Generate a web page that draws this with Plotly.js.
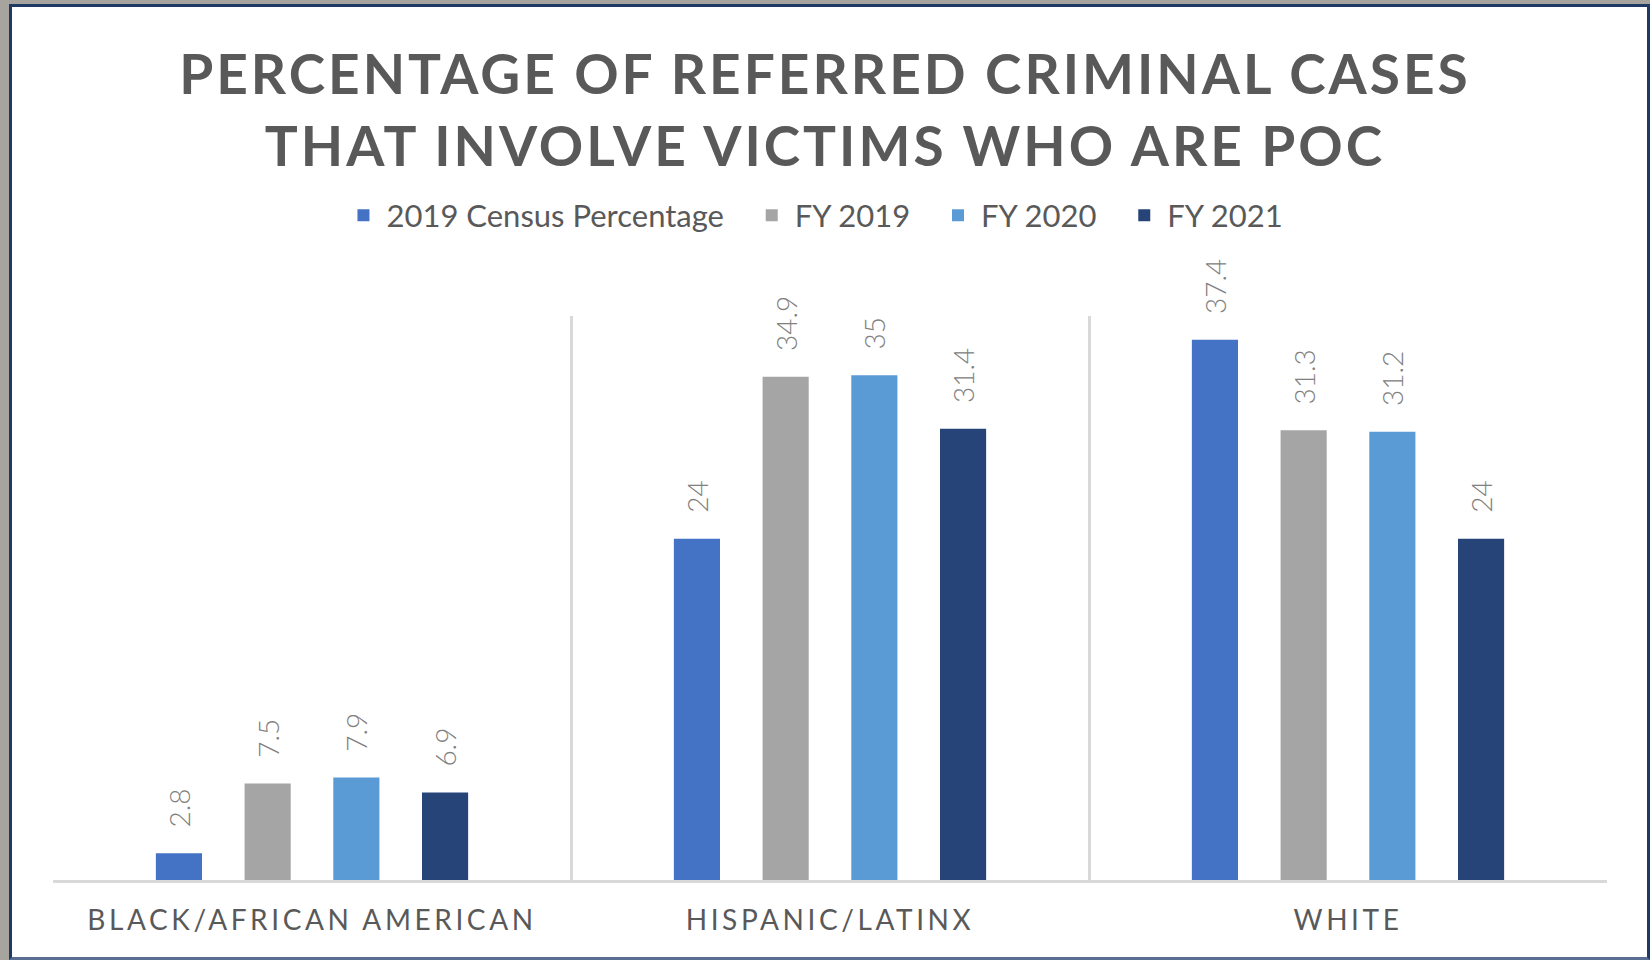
<!DOCTYPE html>
<html>
<head>
<meta charset="utf-8">
<script src="https://cdn.plot.ly/plotly-3.0.1.min.js"></script>
<style>
html,body{margin:0;padding:0;background:#ffffff;}
#wrap{position:relative;width:1650px;height:960px;overflow:hidden;}
#chart{position:absolute;left:0;top:0;width:1650px;height:960px;}
#frameOuter{position:absolute;left:0;top:0;width:1650px;height:960px;box-sizing:border-box;border-left:9px solid #a7a39e;border-top:4px solid #a7a39e;pointer-events:none;}
#frameInner{position:absolute;left:9px;top:4px;right:0;bottom:0;border:3px solid #203864;border-bottom-color:#5a6e93;pointer-events:none;}
.xtick text{letter-spacing:3.6px;}
.gtitle{letter-spacing:3px;}
</style>
</head>
<body>
<div id="wrap">
  <div id="chart"></div>
  <div id="frameOuter"></div>
  <div id="frameInner"></div>
</div>
<script>
const categories = ['BLACK/AFRICAN AMERICAN', 'HISPANIC/LATINX', 'WHITE'];
const seriesNames = ['2019 Census Percentage', 'FY 2019', 'FY 2020', 'FY 2021'];
const census2019 = [2.8, 24, 37.4];
const fy2019 = [7.5, 34.9, 31.3];
const fy2020 = [7.9, 35, 31.2];
const fy2021 = [6.9, 31.4, 24];
const seriesColors = ['#4472C4', '#A5A5A5', '#5B9BD5', '#264478'];

const seriesValues = [census2019, fy2019, fy2020, fy2021];
const pad = '\u00a0\u00a0\u00a0';
const legendPad = '\u00a0\u00a0\u2009';

const traces = seriesValues.map((vals, i) => ({
  type: 'bar',
  name: seriesNames[i] + (i < seriesNames.length - 1 ? legendPad : ''),
  x: categories,
  y: vals,
  marker: {color: seriesColors[i]},
  text: vals.map(v => pad + String(v)),
  textposition: 'outside',
  textangle: -90,
  constraintext: 'none',
  cliponaxis: false,
  textfont: {family: 'Lato', size: 28, color: '#808080', weight: 300},
  hoverinfo: 'skip'
}));

const layout = {
  width: 1650,
  height: 960,
  paper_bgcolor: '#ffffff',
  plot_bgcolor: '#ffffff',
  margin: {l: 53, r: 43, t: 316, b: 80, autoexpand: false},
  barmode: 'group',
  bargap: 0.315,
  bargroupgap: 0.48,
  showlegend: true,
  title: {
    text: 'PERCENTAGE OF REFERRED CRIMINAL CASES<br>THAT INVOLVE VICTIMS WHO ARE POC',
    font: {family: 'Lato', size: 55, color: '#595959', weight: 700},
    x: 0.5,
    xanchor: 'center',
    xref: 'container',
    yref: 'container',
    y: 0.902,
    yanchor: 'middle'
  },
  legend: {
    orientation: 'h',
    x: 0.49,
    xanchor: 'center',
    y: 1.178,
    yanchor: 'middle',
    itemwidth: 36,
    font: {family: 'Lato', size: 31, color: '#595959'},
    bgcolor: 'rgba(0,0,0,0)'
  },
  xaxis: {
    type: 'category',
    tickson: 'boundaries',
    showgrid: true,
    gridcolor: '#d9d9d9',
    gridwidth: 3,
    showline: true,
    linecolor: '#d9d9d9',
    linewidth: 3,
    ticks: '',
    ticklabelstandoff: 13,
    tickfont: {family: 'Lato', size: 28, color: '#595959'},
    automargin: false,
    fixedrange: true
  },
  yaxis: {
    range: [1, 39],
    visible: false,
    showgrid: false,
    zeroline: false,
    automargin: false,
    fixedrange: true
  }
};

Plotly.newPlot('chart', traces, layout, {displayModeBar: false, staticPlot: true});
</script>
</body>
</html>
